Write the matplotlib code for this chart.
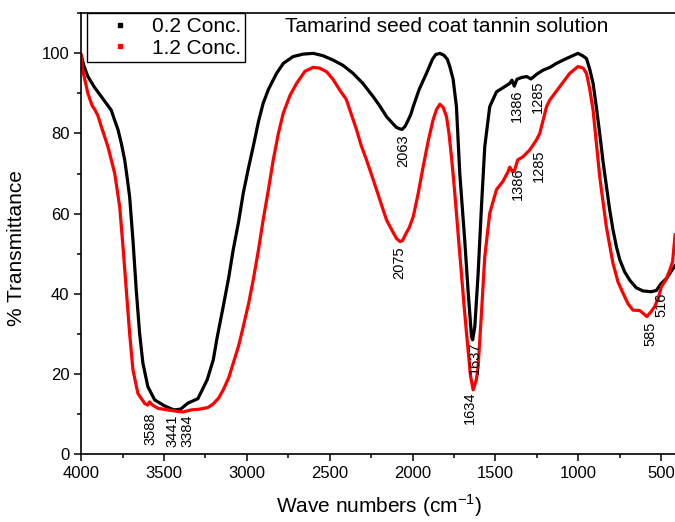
"""FTIR spectra of tamarind seed coat tannin solution at two concentrations."""

import matplotlib
matplotlib.use("Agg")
import matplotlib.pyplot as plt
from matplotlib.lines import Line2D
from matplotlib.ticker import MultipleLocator

# 0.2 Conc. spectrum (wave number, % transmittance)
low_wn = [4000, 3985, 3960, 3920, 3879, 3840, 3819, 3800, 3778, 3758, 3738, 3723,
          3708, 3688, 3668, 3648, 3628, 3598, 3557, 3497, 3441, 3400, 3356, 3296,
          3240, 3203, 3180, 3143, 3110, 3083, 3050, 3022, 2990, 2962, 2930, 2902,
          2870, 2821, 2780, 2721, 2660, 2600, 2540, 2479, 2420, 2359, 2300, 2238,
          2200, 2157, 2120, 2097, 2080, 2063, 2045, 2030, 2010, 1996, 1960, 1916,
          1880, 1860, 1835, 1810, 1790, 1775, 1755, 1735, 1715, 1685, 1665, 1644,
          1637, 1624, 1604, 1584, 1564, 1534, 1493, 1443, 1413, 1400, 1386, 1370,
          1340, 1310, 1285, 1250, 1212, 1170, 1131, 1071, 1001, 970, 950, 930, 910,
          890, 870, 850, 830, 810, 790, 769, 749, 720, 689, 650, 609, 560, 528, 500,
          467, 440, 415]
low_t = [99.5, 97.0, 94.2, 91.5, 89.2, 87.0, 85.8, 83.5, 80.9, 77.5, 73.4, 69.0,
         64.2, 53.4, 40.9, 30.2, 22.7, 16.8, 13.5, 12.0, 11.0, 11.2, 12.7, 13.8,
         18.5, 23.5, 29.0, 36.8, 44.0, 50.9, 58.0, 65.1, 71.5, 76.7, 83.0, 87.5,
         91.0, 95.0, 97.5, 99.2, 99.8, 100.0, 99.4, 98.3, 97.0, 95.0, 92.5, 89.2,
         87.0, 84.2, 82.5, 81.5, 81.2, 81.0, 81.8, 83.0, 84.8, 86.7, 91.0, 95.0,
         98.5, 99.7, 100.0, 99.5, 98.5, 96.7, 93.5, 86.7, 70.1, 53.4, 40.9, 29.3,
         28.5, 31.8, 45.1, 61.7, 76.7, 86.7, 90.4, 91.7, 92.5, 93.3, 91.8, 93.5,
         94.0, 94.2, 93.6, 94.8, 95.8, 96.5, 97.5, 98.7, 100.0, 99.3, 98.7, 96.0, 92.5,
         86.5, 80.0, 73.0, 67.0, 61.0, 56.0, 51.7, 48.5, 45.5, 43.4, 41.5, 40.7, 40.5,
         40.8, 42.5, 43.8, 45.5, 47.0]

# 1.2 Conc. spectrum
high_wn = [4000, 3995, 3960, 3935, 3919, 3900, 3879, 3839, 3798, 3768, 3748, 3728,
           3708, 3688, 3658, 3617, 3600, 3588, 3570, 3537, 3477, 3416, 3384, 3336,
           3284, 3235, 3203, 3170, 3143, 3110, 3083, 3050, 3022, 2990, 2962, 2930,
           2902, 2870, 2841, 2810, 2781, 2740, 2700, 2650, 2600, 2560, 2519, 2480,
           2439, 2400, 2378, 2338, 2310, 2278, 2250, 2217, 2190, 2157, 2120, 2097,
           2075, 2060, 2040, 2020, 1996, 1966, 1936, 1906, 1876, 1855, 1835, 1815,
           1795, 1780, 1765, 1750, 1735, 1720, 1705, 1690, 1674, 1650, 1634, 1615,
           1604, 1584, 1564, 1534, 1493, 1455, 1423, 1413, 1395, 1386, 1365, 1333,
           1292, 1252, 1232, 1191, 1172, 1111, 1051, 1001, 970, 950, 930, 910, 890,
           870, 830, 790, 760, 729, 699, 669, 628, 605, 585, 560, 538, 516, 497, 470,
           447, 430, 415]
high_t = [99.5, 96.5, 90.0, 87.0, 86.0, 84.5, 81.7, 76.7, 70.0, 61.7, 51.7, 40.9,
          30.1, 21.0, 15.1, 12.6, 12.2, 13.0, 12.2, 11.4, 11.0, 10.6, 10.5, 11.0,
          11.2, 11.6, 12.5, 14.0, 16.0, 19.0, 22.6, 27.0, 31.8, 37.5, 43.4, 51.0,
          58.4, 66.0, 73.4, 80.0, 85.0, 89.5, 92.5, 95.5, 96.5, 96.3, 95.4, 93.5,
          90.8, 88.5, 85.8, 80.9, 77.0, 73.4, 70.0, 65.9, 62.5, 58.4, 55.5, 53.8,
          53.0, 53.3, 55.0, 56.5, 59.2, 65.0, 71.7, 78.0, 83.4, 86.0, 87.3, 86.5,
          84.2, 80.0, 74.2, 67.5, 60.1, 52.5, 45.1, 37.5, 30.1, 19.5, 16.0, 18.5,
          21.8, 35.1, 49.2, 60.1, 66.0, 68.0, 70.5, 71.6, 70.4, 70.6, 73.4, 74.2,
          75.9, 78.4, 80.0, 86.7, 88.3, 91.7, 95.0, 96.7, 96.3, 95.0, 91.0, 85.8, 77.5,
          69.2, 56.7, 47.6, 43.0, 40.1, 37.5, 35.9, 35.8, 35.0, 34.3, 35.5, 36.8, 39.0,
          41.8, 43.5, 45.9, 48.0, 54.7]

series_labels = ["0.2 Conc.", "1.2 Conc."]
series_colors = ["black", "red"]

# peak labels: (text, wave number position, top of label in % T)
peak_text = ["3588", "3441", "3384", "2063", "2075", "1637", "1634",
             "1386", "1285", "1386", "1285", "585", "516"]
peak_wn = [3585, 3447, 3360, 2058, 2078, 1625, 1654,
           1370, 1245, 1364, 1240, 563, 497]
peak_top = [10.3, 9.8, 9.8, 79.8, 51.7, 28.0, 15.5,
            91.0, 93.3, 71.5, 75.9, 33.0, 40.2]

plt.rcParams.update({
    "font.family": "Liberation Sans",
    "mathtext.fontset": "custom",
    "mathtext.rm": "Liberation Sans",
    "font.size": 12,
})

fig = plt.figure(figsize=(6.75, 5.22), dpi=100)
ax = fig.add_axes([0.1204, 0.1303, 0.8834, 0.8443])

ax.plot(low_wn, low_t, color=series_colors[0], lw=2.3, solid_joinstyle="round")
ax.plot(high_wn, high_t, color=series_colors[1], lw=2.3, solid_joinstyle="round")

for txt, wn, top in zip(peak_text, peak_wn, peak_top):
    ax.text(wn, top, txt, rotation=90, ha="center", va="top", fontsize=10.5)

ax.set_xlim(4000, 400)
ax.set_ylim(0, 110)
ax.xaxis.set_major_locator(MultipleLocator(500))
ax.xaxis.set_minor_locator(MultipleLocator(250))
ax.yaxis.set_major_locator(MultipleLocator(20))
ax.yaxis.set_minor_locator(MultipleLocator(10))
ax.tick_params(which="major", direction="out", length=5, width=1.1, labelsize=12)
ax.tick_params(which="minor", direction="out", length=3, width=1.1)
ax.spines["right"].set_visible(False)
for side in ("left", "bottom", "top"):
    ax.spines[side].set_linewidth(1.2)

ax.set_xlabel(r"Wave numbers (cm$^{-1}$)", fontsize=15, labelpad=8)
ax.set_ylabel("% Transmittance", fontsize=15)
ax.yaxis.set_label_coords(-0.092, 0.467)

ax.text(0.612, 0.969, "Tamarind seed coat tannin solution", transform=ax.transAxes,
        ha="center", va="center", fontsize=15)

handles = [Line2D([], [], ls="none", marker="s", ms=2.5, color=c) for c in series_colors]
leg = ax.legend(handles, series_labels, loc="upper left", bbox_to_anchor=(0.0096, 1.0),
                borderaxespad=0, fontsize=15, frameon=True, fancybox=False,
                edgecolor="black", framealpha=1, handlelength=2.8, handletextpad=0.1,
                borderpad=0.2, labelspacing=0.1)
leg.get_frame().set_linewidth(1.0)

fig.savefig("out.png", dpi=100)
